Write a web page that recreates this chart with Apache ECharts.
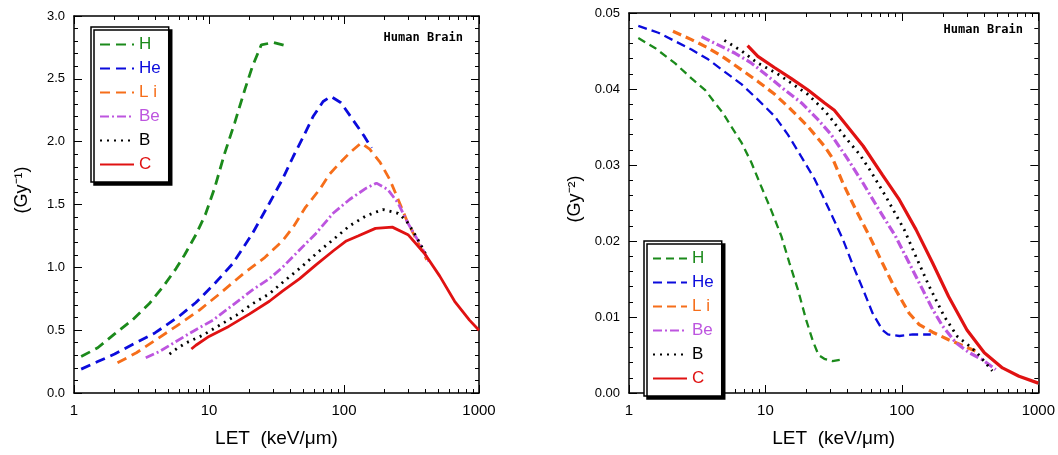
<!DOCTYPE html>
<html>
<head>
<meta charset="utf-8">
<script src="https://cdn.jsdelivr.net/npm/echarts@6/dist/echarts.min.js"></script>
<style>
  body { margin: 0; background: #fff; }
  #chart1, #chart2 { position: absolute; top: 0; width: 529px; height: 455px; }
  #chart1 { left: 0; }
  #chart2 { left: 529px; }
</style>
</head>
<body>
<div id="chart1"></div>
<div id="chart2"></div>
<script>
// LET (keV/um) vs alpha (left, Gy^-1) and beta (right, Gy^-2)
const ions = ['H', 'He', 'Li', 'Be', 'B', 'C']
const colors = ['#1b8a1b', '#0b0bdc', '#f66e1a', '#bd55df', '#000000', '#e01212']
const legendText = ['H', 'He', 'L i', 'Be', 'B', 'C']

const hLeft = [[1.13, 0.29], [1.5, 0.36], [2, 0.47], [2.7, 0.58], [3.6, 0.71], [4.6, 0.85], [5.7, 0.99], [6.6, 1.10], [8, 1.26], [9.4, 1.42], [11, 1.63], [13, 1.90], [15.5, 2.15], [18.5, 2.42], [21, 2.60], [24.4, 2.77], [30, 2.79], [38, 2.76]]
const heLeft = [[1.13, 0.19], [1.5, 0.25], [2, 0.31], [3, 0.41], [4, 0.48], [6, 0.61], [8, 0.72], [11, 0.87], [15, 1.03], [21, 1.27], [28, 1.51], [35, 1.70], [42, 1.88], [50, 2.04], [59, 2.20], [70, 2.32], [80, 2.36], [95, 2.31], [117, 2.17], [142, 2.04], [160, 1.95]]
const liLeft = [[2.1, 0.24], [2.9, 0.32], [4, 0.42], [5.7, 0.53], [8.5, 0.66], [12, 0.79], [18, 0.95], [26, 1.08], [35, 1.21], [42, 1.32], [52, 1.48], [66, 1.62], [78, 1.74], [93, 1.83], [110, 1.91], [134, 1.99], [155, 1.94], [184, 1.84], [218, 1.70], [252, 1.54], [290, 1.38], [344, 1.22], [410, 1.06]]
const beLeft = [[3.4, 0.28], [4.3, 0.33], [5.7, 0.41], [7.6, 0.49], [10.7, 0.58], [15, 0.70], [21, 0.82], [28, 0.91], [35, 1.0], [47, 1.14], [62, 1.27], [83, 1.43], [110, 1.54], [146, 1.63], [174, 1.67], [211, 1.62], [252, 1.51], [298, 1.35], [364, 1.19], [433, 1.03]]
const bLeft = [[5.1, 0.31], [5.9, 0.36], [6.8, 0.40], [9, 0.46], [12, 0.54], [16, 0.62], [21, 0.71], [28, 0.79], [36, 0.89], [48, 1.0], [64, 1.12], [83, 1.22], [110, 1.33], [146, 1.41], [194, 1.46], [252, 1.43], [290, 1.37], [324, 1.29], [353, 1.22], [410, 1.09]]
const cLeft = [[7.4, 0.35], [8, 0.38], [10, 0.45], [14, 0.53], [20, 0.63], [28, 0.73], [35, 0.81], [47, 0.91], [62, 1.02], [83, 1.13], [104, 1.21], [127, 1.25], [171, 1.31], [228, 1.32], [298, 1.26], [395, 1.11], [512, 0.93], [660, 0.73], [850, 0.58], [1000, 0.50]]

const hRight = [[1.17, 0.0467], [1.55, 0.0454], [2.17, 0.0434], [2.87, 0.0414], [3.6, 0.0399], [4.25, 0.0382], [4.9, 0.0368], [5.6, 0.0351], [6.7, 0.0329], [7.9, 0.0303], [9.3, 0.0272], [11, 0.0241], [13.1, 0.0206], [15, 0.0171], [17.3, 0.0136], [19.9, 0.0096], [22.3, 0.0068], [24.5, 0.0050], [27, 0.0045], [31, 0.0042], [36, 0.0044]]
const heRight = [[1.17, 0.0483], [1.64, 0.0474], [2.17, 0.0463], [2.87, 0.0452], [3.8, 0.0439], [5, 0.0423], [6.7, 0.0406], [8.8, 0.0386], [11.7, 0.0364], [14.6, 0.0340], [18.3, 0.0311], [23, 0.0281], [27, 0.0255], [31, 0.0232], [37, 0.0202], [44, 0.0167], [52, 0.0136], [61, 0.0105], [72, 0.0083], [79, 0.0077], [96, 0.0075], [120, 0.0077], [163, 0.0077]]
const liRight = [[2.1, 0.0476], [2.87, 0.0465], [3.8, 0.0454], [5, 0.0441], [6.7, 0.0425], [8.8, 0.0410], [11.7, 0.0393], [15.4, 0.0373], [20.4, 0.0351], [27, 0.0325], [31, 0.0309], [37, 0.0276], [46, 0.0241], [58, 0.0206], [72, 0.0171], [90, 0.0136], [113, 0.0105], [134, 0.0090], [168, 0.0080], [220, 0.0070], [292, 0.0061], [348, 0.0055]]
const beRight = [[3.4, 0.0469], [4.5, 0.0458], [6, 0.0447], [7.9, 0.0434], [10.4, 0.0417], [13.8, 0.0399], [18.3, 0.0382], [24.2, 0.0360], [30, 0.0341], [39, 0.0311], [52, 0.0276], [68, 0.0241], [90, 0.0206], [113, 0.0171], [142, 0.0136], [168, 0.0110], [199, 0.0088], [249, 0.0066], [312, 0.0053], [388, 0.0044], [487, 0.0031]]
const bRight = [[5, 0.0464], [6.7, 0.0450], [8.8, 0.0434], [12, 0.0421], [15.4, 0.0408], [20.4, 0.0393], [27, 0.0372], [30, 0.0362], [39, 0.0335], [49, 0.0314], [59, 0.0292], [76, 0.0259], [104, 0.0215], [130, 0.0175], [159, 0.0140], [204, 0.0101], [256, 0.0074], [312, 0.0062], [355, 0.0053], [460, 0.0029]]
const cRight = [[7.4, 0.0457], [8.8, 0.0443], [11.7, 0.0428], [15.4, 0.0414], [20.4, 0.0399], [27, 0.0382], [32, 0.0372], [39, 0.0353], [52, 0.0325], [72, 0.0287], [96, 0.0254], [127, 0.0215], [168, 0.0171], [220, 0.0127], [300, 0.0083], [402, 0.0053], [546, 0.0033], [722, 0.0022], [1000, 0.0013]]

const xMinorTicks = [2, 3, 4, 5, 6, 7, 8, 9, 20, 30, 40, 50, 60, 70, 80, 90, 200, 300, 400, 500, 600, 700, 800, 900]

const dashLeft = [[10, 6], [10, 6], [10, 6], [9, 3, 2, 3], [2, 5], 'solid']
const dashRight = [[8, 5], [9, 5], [9, 5], [9, 3, 2, 3], [2, 5], 'solid']

// tick colour comes from axisLine (own lineStyle on axisTick flipped the ticks outside)
const makeX = (position, minor) => ({
  type: 'log',
  logBase: 10,
  min: 1,
  max: 1000,
  position: position,
  axisLine: { show: !minor, lineStyle: { color: '#000', width: 1.5 } },
  axisTick: minor
    ? { show: true, inside: true, length: 4, customValues: xMinorTicks }
    : { show: true, inside: true, length: 8 },
  axisLabel: (position === 'bottom' && !minor)
    ? { show: true, color: '#000', fontSize: 15, margin: 10, formatter: v => String(Math.round(v)) }
    : { show: false },
  splitLine: { show: false }
})

const makeY = (position, max, interval, digits) => ({
  type: 'value',
  min: 0,
  max: max,
  interval: interval,
  position: position,
  axisLine: { show: true, lineStyle: { color: '#000', width: 1.5 } },
  axisTick: { show: true, inside: true, length: 8 },
  minorTick: { show: true, splitNumber: 5, length: 4 },
  axisLabel: position === 'left'
    ? { show: true, color: '#000', fontSize: 13, margin: 9, formatter: v => v.toFixed(digits) }
    : { show: false },
  splitLine: { show: false }
})

// y title as a rotated graphic text, the y axis name seemed to knock out the ticks
const buildOption = (datas, grid, legendPos, yMax, yInterval, digits, yName, yNamePos, titlePos, dashes, widths) => {
  const xAxis = [makeX('bottom', false), makeX('bottom', true), makeX('top', false), makeX('top', true)]
  xAxis[0].name = 'LET  (keV/\u03bcm)'
  xAxis[0].nameLocation = 'middle'
  xAxis[0].nameGap = 36
  xAxis[0].nameTextStyle = { color: '#000', fontSize: 19 }

  const yAxis = [makeY('left', yMax, yInterval, digits), makeY('right', yMax, yInterval, digits)]

  const series = ions.map((name, i) => ({
    name: name,
    type: 'line',
    data: datas[i],
    symbol: 'none',
    smooth: false,
    lineStyle: { color: colors[i], width: widths[i], type: dashes[i] },
    itemStyle: { color: colors[i] }
  }))

  return {
    animation: false,
    backgroundColor: '#fff',
    grid: grid,
    title: {
      text: 'Human Brain',
      right: titlePos.right,
      top: titlePos.top,
      padding: 0,
      textStyle: { fontSize: 12, fontWeight: 'bold', fontFamily: 'monospace', color: '#000' }
    },
    graphic: [{
      type: 'text',
      x: yNamePos.x,
      y: yNamePos.y,
      rotation: Math.PI / 2,
      style: { text: yName, fontSize: 18, fill: '#000', align: 'center', verticalAlign: 'middle' }
    }],
    legend: {
      left: legendPos.left,
      top: legendPos.top,
      orient: 'vertical',
      padding: [9, 8, 9, 8],
      itemWidth: 34,
      itemHeight: 14,
      itemGap: 7,
      backgroundColor: '#fff',
      borderColor: '#000',
      borderWidth: 1.5,
      borderRadius: 0,
      shadowColor: '#000',
      shadowBlur: 0,
      shadowOffsetX: 3,
      shadowOffsetY: 3,
      selectedMode: false,
      itemStyle: { opacity: 0 },
      data: ions,
      formatter: name => {
        const i = ions.indexOf(name)
        return '{c' + i + '|' + legendText[i] + '}'
      },
      textStyle: {
        fontSize: 17,
        lineHeight: 14,
        rich: {
          c0: { color: colors[0], fontSize: 17 },
          c1: { color: colors[1], fontSize: 17 },
          c2: { color: colors[2], fontSize: 17 },
          c3: { color: colors[3], fontSize: 17 },
          c4: { color: colors[4], fontSize: 17 },
          c5: { color: colors[5], fontSize: 17 }
        }
      }
    },
    xAxis: xAxis,
    yAxis: yAxis,
    series: series
  }
}

const option1 = buildOption(
  [hLeft, heLeft, liLeft, beLeft, bLeft, cLeft],
  { left: 74, top: 16, width: 405, height: 377 },
  { left: 91, top: 27 },
  3, 0.5, 1,
  '(Gy\u207b\u00b9)', { x: 22, y: 190 },
  { right: 66, top: 32 },
  dashLeft,
  [2.8, 2.8, 2.8, 2.8, 2.8, 2.8]
)
const myChart1 = echarts.init(document.getElementById('chart1'))
myChart1.setOption(option1)

const option2 = buildOption(
  [hRight, heRight, liRight, beRight, bRight, cRight],
  { left: 100, top: 13, width: 410, height: 380 },
  { left: 115, top: 241 },
  0.05, 0.01, 2,
  '(Gy\u207b\u00b2)', { x: 46, y: 199 },
  { right: 35, top: 24 },
  dashRight,
  [2.3, 2.3, 3.2, 3.2, 2.8, 3.2]
)
const myChart2 = echarts.init(document.getElementById('chart2'))
myChart2.setOption(option2)
</script>
</body>
</html>
